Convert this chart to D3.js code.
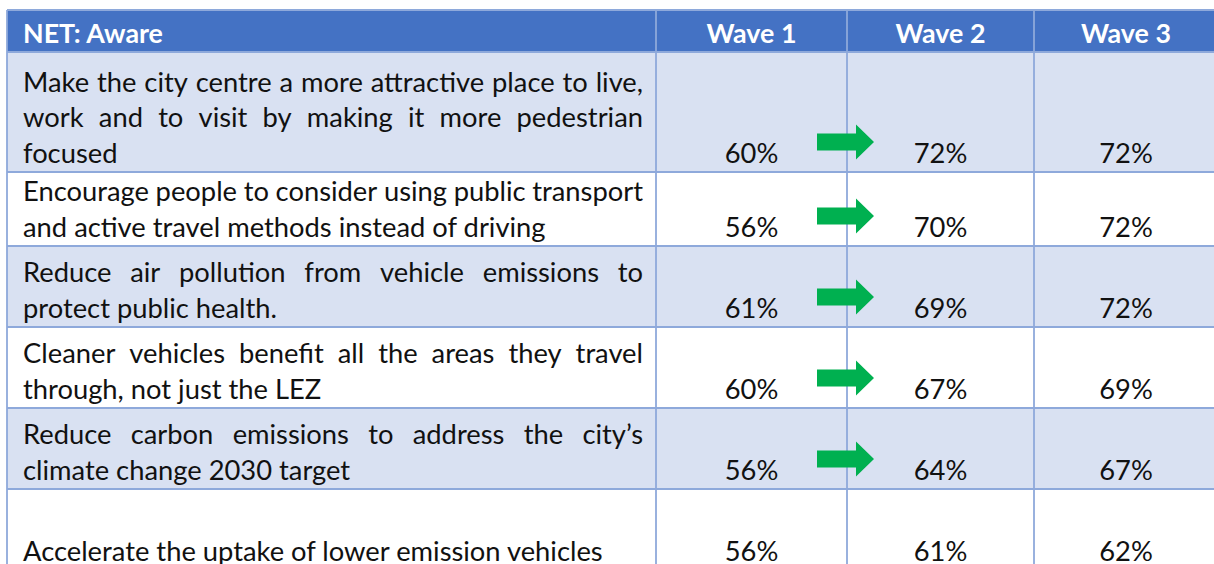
<!DOCTYPE html>
<html><head><meta charset="utf-8">
<script src="https://cdn.jsdelivr.net/npm/d3@7"></script>
<style>html,body{margin:0;padding:0;background:#fff;overflow:hidden}</style>
</head><body>
<svg id="c" width="1214" height="564"></svg>
<script>
// ---------- data ----------
const headerLabel = "NET: Aware";
const waves = ["Wave 1", "Wave 2", "Wave 3"];
const statements = [
  ["Make the city centre a more attractive place to live,", "work and to visit by making it more pedestrian", "focused"],
  ["Encourage people to consider using public transport", "and active travel methods instead of driving"],
  ["Reduce air pollution from vehicle emissions to", "protect public health."],
  ["Cleaner vehicles benefit all the areas they travel", "through, not just the LEZ"],
  ["Reduce carbon emissions to address the city’s", "climate change 2030 target"],
  ["Accelerate the uptake of lower emission vehicles"]
];
const wave1 = [60, 56, 61, 60, 56, 56];
const wave2 = [72, 70, 69, 67, 64, 61];
const wave3 = [72, 72, 72, 69, 67, 62];
const sigIncrease = [true, true, true, true, true, false]; // Wave 1 -> Wave 2

// ---------- layout ----------
const W = 1214, H = 564;
const TABLE_LEFT = 7, TABLE_RIGHT = 1218;
const FIRST_COL_RIGHT = 656;
const COL_LEFTS = [656, 847, 1034];
const HEADER_TOP = 10, HEADER_BOTTOM = 52;
const ROW_HEIGHTS = [120, 74, 81, 81, 81, 81];
const LINE_GAP = 35.5, BASE_PAD = 9.5, TEXT_LEFT = 23, TEXT_RIGHT = 643;
const FONT = "Lato, Carlito, Calibri, sans-serif";
const C = { head: "#4472C4", band: "#D9E1F2", grid: "#8EA9DB", text: "#111111", arrow: "#00B050" };

const svg = d3.select("#c");

function measure(str, size, weight) {
  const t = svg.append("text").attr("font-family", FONT).attr("font-size", size)
    .attr("font-weight", weight).text(str);
  const w = t.node().getComputedTextLength();
  t.remove();
  return w;
}
const bodySize = 28 * 580 / measure(statements[5][0], 28, 400);
const headSize = 26 * 140 / measure(headerLabel, 26, 700);

// scales
const rowBottoms = Array.from(d3.cumsum(ROW_HEIGHTS), v => v + HEADER_BOTTOM);
const rowTops = [HEADER_BOTTOM, ...rowBottoms.slice(0, -1)];
const colLeft = d3.scaleOrdinal().domain(waves).range(COL_LEFTS);
const colRight = d3.scaleOrdinal().domain(waves).range([...COL_LEFTS.slice(1), TABLE_RIGHT]);
const colCenter = w => (colLeft(w) + colRight(w)) / 2;

const rows = statements.map((lines, i) => ({
  i, lines, top: rowTops[i], bottom: rowBottoms[i],
  vals: [wave1[i], wave2[i], wave3[i]], sig: sigIncrease[i]
}));

// ---------- backgrounds ----------
svg.append("rect").attr("x", TABLE_LEFT).attr("y", HEADER_TOP)
  .attr("width", TABLE_RIGHT - TABLE_LEFT).attr("height", HEADER_BOTTOM - HEADER_TOP)
  .attr("fill", C.head);

svg.selectAll("rect.row").data(rows).join("rect").attr("class", "row")
  .attr("x", TABLE_LEFT).attr("y", d => d.top)
  .attr("width", TABLE_RIGHT - TABLE_LEFT).attr("height", d => d.bottom - d.top)
  .attr("fill", d => d.i % 2 === 0 ? C.band : "#ffffff");

// ---------- grid ----------
const g = svg.append("g").attr("stroke", C.grid).attr("stroke-width", 1.8);
[HEADER_TOP, HEADER_BOTTOM, ...rowBottoms].forEach(y =>
  g.append("line").attr("x1", TABLE_LEFT).attr("x2", TABLE_RIGHT).attr("y1", y).attr("y2", y));
[TABLE_LEFT, ...COL_LEFTS].forEach(x =>
  g.append("line").attr("x1", x).attr("x2", x).attr("y1", HEADER_TOP).attr("y2", rowBottoms[rowBottoms.length - 1]));

// ---------- header text ----------
svg.append("text").attr("x", TEXT_LEFT).attr("y", 43)
  .attr("font-family", FONT).attr("font-size", headSize).attr("font-weight", 700)
  .attr("fill", "#fff").text(headerLabel);
svg.selectAll("text.wave").data(waves).join("text").attr("class", "wave")
  .attr("x", d => colCenter(d)).attr("y", 43).attr("text-anchor", "middle")
  .attr("font-family", FONT).attr("font-size", headSize).attr("font-weight", 700)
  .attr("fill", "#fff").text(d => d);

// ---------- statements (justified) ----------
rows.forEach(r => {
  const n = r.lines.length;
  r.lines.forEach((line, k) => {
    const y = r.bottom - BASE_PAD - (n - 1 - k) * LINE_GAP;
    if (k === n - 1) {
      svg.append("text").attr("x", TEXT_LEFT).attr("y", y)
        .attr("font-family", FONT).attr("font-size", bodySize).attr("fill", C.text).text(line);
    } else {
      const words = line.split(" ");
      const ws = words.map(w => measure(w, bodySize, 400));
      const gap = (TEXT_RIGHT - TEXT_LEFT - d3.sum(ws)) / (words.length - 1);
      let x = TEXT_LEFT;
      words.forEach((w, j) => {
        svg.append("text").attr("x", x).attr("y", y)
          .attr("font-family", FONT).attr("font-size", bodySize).attr("fill", C.text).text(w);
        x += ws[j] + gap;
      });
    }
  });
});

// ---------- values ----------
rows.forEach(r => {
  svg.selectAll(null).data(waves).join("text")
    .attr("x", w => colCenter(w)).attr("y", r.bottom - BASE_PAD)
    .attr("text-anchor", "middle").attr("font-family", FONT).attr("font-size", bodySize)
    .attr("fill", C.text).text((w, j) => r.vals[j] + "%");
});

// ---------- significance arrows ----------
const bx = colLeft("Wave 2");
svg.selectAll("path.arrow").data(rows.filter(r => r.sig)).join("path").attr("class", "arrow")
  .attr("fill", C.arrow)
  .attr("d", r => {
    const c = r.bottom - 30;
    const p = d3.path();
    p.moveTo(bx - 30, c - 8.5);
    p.lineTo(bx + 9, c - 8.5);
    p.lineTo(bx + 9, c - 17.5);
    p.lineTo(bx + 27, c);
    p.lineTo(bx + 9, c + 17.5);
    p.lineTo(bx + 9, c + 8.5);
    p.lineTo(bx - 30, c + 8.5);
    p.closePath();
    return p.toString();
  });
</script>
</body></html>
